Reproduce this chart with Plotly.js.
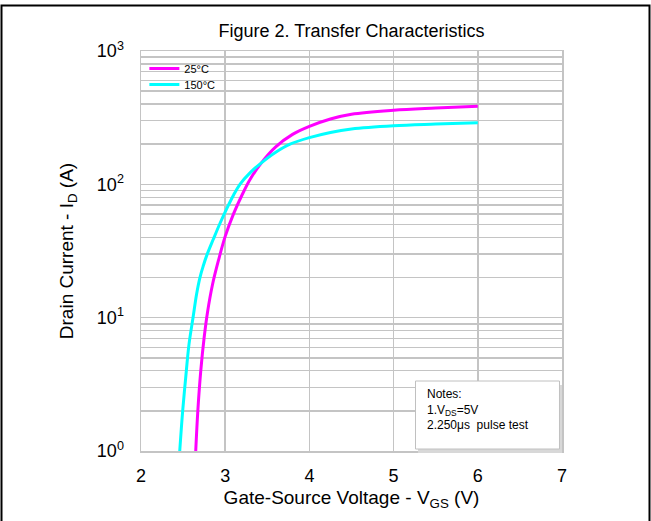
<!DOCTYPE html>
<html>
<head>
<meta charset="utf-8">
<script src="https://cdn.plot.ly/plotly-3.0.1.min.js"></script>
<style>
html,body{margin:0;padding:0;background:#fff;}
#chart{width:651px;height:521px;}
</style>
</head>
<body>
<div id="chart"></div>
<script>
// 25°C curve (V_GS in V, I_D in A)
var vgs25 = [2.65, 2.675, 2.71, 2.75, 2.79, 2.85, 2.92, 3.00, 3.10, 3.20, 3.30, 3.43, 3.60, 3.80, 4.00, 4.25, 4.50, 5.00, 5.50, 6.00];
var id25  = [1.0, 2.0, 4.0, 7.1, 11.0, 17.8, 26.9, 40.7, 60.3, 83.2, 110, 145, 191, 237, 272, 309, 335, 359, 373, 385];
// 150°C curve
var vgs150 = [2.46, 2.495, 2.53, 2.57, 2.62, 2.66, 2.70, 2.74, 2.78, 2.86, 2.94, 3.02, 3.10, 3.175, 3.30, 3.43, 3.60, 3.77, 4.00, 4.25, 4.50, 5.00, 5.50, 6.00];
var id150  = [1.0, 2.0, 3.5, 6.3, 10.2, 15.0, 20.0, 24.5, 29.2, 38.9, 51.3, 66.1, 83.2, 100, 123, 145, 174, 200, 224, 245, 260, 275, 283, 290];

var seriesNames = ['25°C', '150°C'];
var xTickVals = [2, 3, 4, 5, 6, 7];
var yTickVals = [1, 10, 100, 1000];
var yTickText = ['10<sup>0</sup>', '10<sup>1</sup>', '10<sup>2</sup>', '10<sup>3</sup>'];
var notesText = 'Notes:<br>1.V<sub>DS</sub>=5V<br>2.250μs  pulse test';

var gridCol = '#c4c4c4';
var fontFam = 'Liberation Sans, Arial, sans-serif';

var traces = [
  {x: vgs25, y: id25, name: seriesNames[0], mode: 'lines', legend: 'legend',
   line: {color: '#ff00ff', width: 3, shape: 'spline', smoothing: 1}},
  {x: vgs150, y: id150, name: seriesNames[1], mode: 'lines', legend: 'legend2',
   line: {color: '#00ffff', width: 3, shape: 'spline', smoothing: 1}}
];

var legendBase = {xanchor: 'left', yanchor: 'top', bgcolor: 'rgba(0,0,0,0)',
                  font: {size: 11, family: fontFam}};

var layout = {
  width: 651, height: 521,
  margin: {l: 141, r: 89, t: 51, b: 70},
  paper_bgcolor: '#fff', plot_bgcolor: '#fff',
  font: {family: fontFam, color: '#000'},
  title: {text: 'Figure 2. Transfer Characteristics', font: {size: 18, family: fontFam},
          x: 0.54, xanchor: 'center', y: 1 - 31/521, yanchor: 'middle', yref: 'container'},
  showlegend: true,
  legend: Object.assign({x: 0.008, y: 0.9925}, legendBase),
  legend2: Object.assign({x: 0.008, y: 0.9525}, legendBase),
  xaxis: {range: [2, 7], tickmode: 'array', tickvals: xTickVals, ticks: '',
          showgrid: true, gridcolor: gridCol, gridwidth: 1.5,
          showline: true, linecolor: gridCol, linewidth: 1.5, mirror: true,
          zeroline: false, tickfont: {size: 18}, ticklabelstandoff: 8,
          title: {text: 'Gate-Source Voltage - V<sub>GS</sub> (V)', font: {size: 19}, standoff: 5}},
  yaxis: {type: 'log', range: [0, 3], tickmode: 'array', tickvals: yTickVals, ticktext: yTickText,
          ticks: '', showgrid: true, gridcolor: gridCol, gridwidth: 1.5,
          minor: {dtick: 'D1', showgrid: true, gridcolor: gridCol, gridwidth: 1.5, ticks: ''},
          showline: true, linecolor: gridCol, linewidth: 1.5, mirror: true,
          zeroline: false, tickfont: {size: 18}, ticklabelstandoff: 12,
          title: {text: 'Drain Current - I<sub>D</sub> (A)', font: {size: 19}, standoff: 18}},
  shapes: [
    {type: 'rect', xref: 'x', yref: 'paper', x0: 5.29, x1: 7.0, y0: -0.005, y1: 0.165,
     fillcolor: '#d8d8d8', line: {width: 0}, layer: 'above'},
    {type: 'rect', xref: 'x', yref: 'paper', x0: 5.26, x1: 6.97, y0: 0.005, y1: 0.175,
     fillcolor: '#ffffff', line: {color: '#c0c0c0', width: 1}, layer: 'above'},
    {type: 'rect', xref: 'paper', yref: 'paper', x0: (1.5 - 141) / 421, x1: (649.5 - 141) / 421,
     y0: (451 - 530) / 400, y1: (451 - 5.5) / 400, line: {color: '#000', width: 2}, fillcolor: 'rgba(0,0,0,0)'}
  ],
  annotations: [
    {text: notesText, xref: 'x', yref: 'paper', x: 5.37, y: 0.165, xanchor: 'left', yanchor: 'top',
     align: 'left', showarrow: false, font: {size: 12, family: fontFam}}
  ]
};

Plotly.newPlot('chart', traces, layout, {displayModeBar: false, staticPlot: true});
</script>
</body>
</html>
